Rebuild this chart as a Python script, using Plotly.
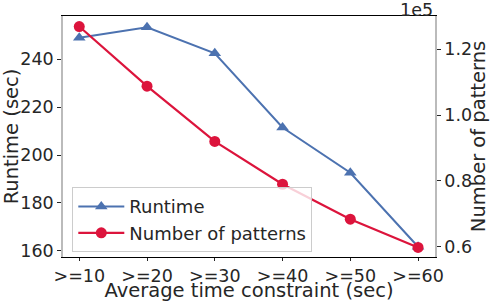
import plotly.graph_objects as go

categories = [">=10", ">=20", ">=30", ">=40", ">=50", ">=60"]
runtime = [249.0, 253.4, 242.5, 211.5, 192.6, 161.7]
patterns = [126900, 108800, 92000, 79000, 68400, 59800]
runtime_ticks = [160, 180, 200, 220, 240]
pattern_ticks = [60000, 80000, 100000, 120000]
pattern_ticklabels = ["0.6", "0.8", "1.0", "1.2"]

BLUE = "#4C72B0"
RED = "#DC143C"
TXT = "#262626"
FONT = "DejaVu Sans"
TICK = 17.5
TITLE = 19.5

fig = go.Figure()
fig.add_trace(go.Scatter(
    x=list(range(len(categories))), y=runtime, name="Runtime",
    mode="lines+markers", line=dict(color=BLUE, width=2),
    marker=dict(symbol="triangle-up", size=11, color=BLUE), yaxis="y"))
fig.add_trace(go.Scatter(
    x=list(range(len(categories))), y=patterns, name="Number of patterns",
    mode="lines+markers", line=dict(color=RED, width=2.2),
    marker=dict(symbol="circle", size=11, color=RED), yaxis="y2"))

fig.update_layout(
    width=490, height=302,
    margin=dict(l=63, r=55, t=16, b=45),
    paper_bgcolor="white", plot_bgcolor="white",
    font=dict(family=FONT, color=TXT, size=TICK),
    showlegend=True,
    legend=dict(x=0.025, y=0.02, xanchor="left", yanchor="bottom",
                bgcolor="rgba(255,255,255,0.8)", bordercolor="#cccccc",
                borderwidth=1, font=dict(size=18, color=TXT),
                tracegroupgap=0, itemwidth=46),
    xaxis=dict(
        range=[-0.24, 5.25], tickmode="array", automargin=False,
        tickvals=list(range(len(categories))), ticktext=categories,
        tickfont=dict(size=TICK, color=TXT), ticks="outside", ticklen=3,
        tickcolor=TXT, showgrid=False, zeroline=False,
        showline=True, linecolor="black", linewidth=1.2, mirror=True,
        title=dict(text="Average time constraint (sec)", font=dict(size=TITLE, color=TXT), standoff=4)),
    yaxis=dict(
        range=[157.4, 258.1], tickvals=runtime_ticks, automargin=False,
        tickfont=dict(size=TICK, color=TXT), ticks="outside", ticklen=4,
        tickcolor=TXT, showgrid=False, zeroline=False,
        showline=True, linecolor="#bbbbbb", linewidth=1.5,
        title=dict(text="Runtime (sec)", font=dict(size=TITLE, color=TXT), standoff=2)),
    yaxis2=dict(
        overlaying="y", side="right", range=[56900, 130100], automargin=False,
        tickvals=pattern_ticks, ticktext=pattern_ticklabels,
        tickfont=dict(size=TICK, color=TXT), ticks="outside", ticklen=4,
        tickcolor=TXT, showgrid=False, zeroline=False,
        showline=True, linecolor="#bbbbbb", linewidth=1.5,
        title=dict(text="Number of patterns", font=dict(size=TITLE, color=TXT), standoff=4)),
    annotations=[dict(text="1e5", xref="paper", yref="paper", x=1.0, y=1.0,
                      xanchor="right", yanchor="bottom", showarrow=False,
                      font=dict(size=TICK, color=TXT), yshift=-6)],
)

fig.write_html("out.html", config={"displayModeBar": False},
               post_script="document.body.style.margin='0px';")
